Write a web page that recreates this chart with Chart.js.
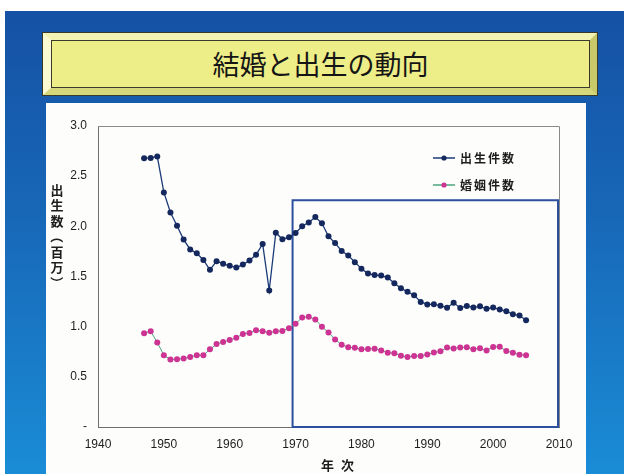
<!DOCTYPE html>
<html>
<head>
<meta charset="utf-8">
<script src="https://cdn.jsdelivr.net/npm/chart.js@4.4.1/dist/chart.umd.min.js"></script>
<style>
  html, body { margin: 0; padding: 0; }
  body {
    width: 624px; height: 474px; position: relative; overflow: hidden;
    background: #fff;
  }
  #slide {
    position: absolute; left: 5px; top: 11px; width: 619px; height: 463px;
    background: linear-gradient(to bottom, #1551a4 0%, #1868b8 45%, #1a8cd6 100%);
  }
  #title {
    position: absolute; left: 43px; top: 33px; width: 537px; height: 46px;
    border-style: solid;
    border-width: 8px 8px 8px 9px;
    border-color: #f3f3b4 #c9c96a #d6d67a #fbfbd2;
    outline: 1px solid #3a3a2a;
    background: #eeee88;
  }
  #title .face {
    position: absolute; left: -1px; top: -1px; right: -1px; bottom: -1px;
    border: 1px solid #3a3a2a;
    text-align: center; line-height: 46px;
    font-family: "Noto Sans CJK JP", sans-serif; font-size: 27px; color: #151515;
  }
  #panel {
    position: absolute; left: 46px; top: 103px; width: 540px; height: 371px;
    background: #fdfefb;
  }
  canvas { display: block; }
</style>
</head>
<body>
<div id="slide"></div>
<div id="title"><div class="face">結婚と出生の動向</div></div>
<div id="panel"><canvas id="chart" width="540" height="371"></canvas></div>
<script>
// 1947-2005, millions
const years = [];
for (let y = 1947; y <= 2005; y++) years.push(y);

const births = [
  2.679, 2.682, 2.697, 2.338, 2.138, 2.005, 1.868, 1.770, 1.731, 1.665,
  1.567, 1.653, 1.626, 1.606, 1.589, 1.619, 1.660, 1.717, 1.824, 1.361,
  1.936, 1.872, 1.890, 1.934, 2.001, 2.039, 2.092, 2.030, 1.901, 1.833,
  1.755, 1.709, 1.643, 1.577, 1.529, 1.515, 1.509, 1.490, 1.432, 1.383,
  1.347, 1.314, 1.247, 1.222, 1.223, 1.209, 1.188, 1.238, 1.187, 1.207,
  1.192, 1.203, 1.178, 1.191, 1.171, 1.154, 1.124, 1.111, 1.063
];
const marriages = [
  0.934, 0.954, 0.843, 0.715, 0.672, 0.676, 0.682, 0.698, 0.715, 0.715,
  0.774, 0.827, 0.848, 0.866, 0.890, 0.928, 0.938, 0.964, 0.955, 0.940,
  0.954, 0.957, 0.985, 1.029, 1.092, 1.100, 1.072, 1.000, 0.942, 0.872,
  0.821, 0.794, 0.789, 0.775, 0.777, 0.781, 0.763, 0.740, 0.736, 0.711,
  0.697, 0.708, 0.708, 0.722, 0.742, 0.754, 0.793, 0.783, 0.792, 0.795,
  0.776, 0.785, 0.762, 0.798, 0.800, 0.757, 0.740, 0.720, 0.714
];
const seriesNames = ['出生件数', '婚姻件数'];
const xTicks = [1940, 1950, 1960, 1970, 1980, 1990, 2000, 2010];
const yTicks = [0, 0.5, 1.0, 1.5, 2.0, 2.5, 3.0];
// highlighted period: x from 1970 to 2010, y up to 2.26
const boxRange = { x0: 1970, x1: 2010, y0: 0, y1: 2.26 };

const JP = '"Noto Sans CJK JP", sans-serif';
const NUM = '"Liberation Sans", Arial, sans-serif';

// plot frame, axis titles and the highlight box
const decor = {
  id: 'decor',
  beforeDatasetsDraw(chart) {
    const { ctx, chartArea: a, scales } = chart;
    ctx.save();
    // grey frame on top/right
    ctx.strokeStyle = '#8a8a8a';
    ctx.lineWidth = 1;
    ctx.beginPath();
    ctx.moveTo(a.left, a.top + 0.5);
    ctx.lineTo(a.right + 0.5, a.top + 0.5);
    ctx.lineTo(a.right + 0.5, a.bottom);
    ctx.stroke();
    // highlight box
    const x0 = scales.x.getPixelForValue(boxRange.x0);
    const x1 = scales.x.getPixelForValue(boxRange.x1);
    const y0 = scales.y.getPixelForValue(boxRange.y0);
    const y1 = scales.y.getPixelForValue(boxRange.y1);
    ctx.strokeStyle = '#2c4f9e';
    ctx.lineWidth = 2;
    ctx.strokeRect(x0 - 3, y1, x1 - x0 + 2, y0 - y1);
    ctx.restore();
  },
  afterDraw(chart) {
    const { ctx, chartArea: a } = chart;
    ctx.save();
    ctx.fillStyle = '#1d1d1d';
    ctx.font = 'bold 13px ' + JP;
    ctx.textAlign = 'center';
    ctx.textBaseline = 'middle';
    // vertical y title, brackets turned sideways
    const yTitle = ['出', '生', '数', '（', '百', '万', '）'];
    yTitle.forEach((c, i) => {
      const y = 87 + i * 15.5;
      if (c === '（' || c === '）') {
        ctx.save();
        ctx.translate(11, y);
        ctx.rotate(Math.PI / 2);
        ctx.fillText(c, 0, 0);
        ctx.restore();
      } else {
        ctx.fillText(c, 11, y);
      }
    });
    // x title
    ctx.textAlign = 'left';
    ctx.fillText('年', 275, 362);
    ctx.fillText('次', 295, 362);

    // legend
    const lx = a.right - 126;
    const rows = [55, 82];
    chart.data.datasets.forEach((ds, i) => {
      const y = rows[i];
      ctx.strokeStyle = ds.borderColor;
      ctx.lineWidth = 1.5;
      ctx.beginPath();
      ctx.moveTo(lx, y);
      ctx.lineTo(lx + 22, y);
      ctx.stroke();
      ctx.fillStyle = ds.pointBackgroundColor;
      ctx.beginPath();
      ctx.arc(lx + 11, y, 2.6, 0, Math.PI * 2);
      ctx.fill();
      ctx.fillStyle = '#1d1d1d';
      ctx.font = 'bold 12px ' + JP;
      ctx.letterSpacing = '2px';
      ctx.textAlign = 'left';
      ctx.fillText(ds.label, lx + 27, y);
      ctx.letterSpacing = '0px';
    });
    ctx.restore();
  }
};

new Chart(document.getElementById('chart'), {
  type: 'line',
  data: {
    datasets: [
      {
        label: seriesNames[0],
        data: years.map((x, i) => ({ x, y: births[i] })),
        borderColor: '#1b3a7a',
        backgroundColor: '#14285e',
        pointBackgroundColor: '#14285e',
        pointBorderWidth: 0,
        pointRadius: 3,
        borderWidth: 1.3,
        tension: 0
      },
      {
        label: seriesNames[1],
        data: years.map((x, i) => ({ x, y: marriages[i] })),
        borderColor: '#4aa37c',
        backgroundColor: '#cc3393',
        pointBackgroundColor: '#cc3393',
        pointBorderWidth: 0,
        pointRadius: 3,
        borderWidth: 1,
        tension: 0
      }
    ]
  },
  options: {
    responsive: false,
    animation: false,
    events: [],
    layout: { padding: { left: 0, top: 23, right: 27, bottom: 0 } },
    plugins: { legend: { display: false }, tooltip: { enabled: false } },
    scales: {
      x: {
        type: 'linear',
        min: xTicks[0], max: xTicks[xTicks.length - 1],
        afterFit(s) { s.height = 47; },
        afterBuildTicks(s) { s.ticks = xTicks.map(v => ({ value: v })); },
        grid: { display: false, drawTicks: false },
        border: { color: '#6e6e6e', width: 1 },
        ticks: { padding: 10, color: '#1d1d1d', font: { family: NUM, size: 12 }, callback: v => String(v) }
      },
      y: {
        min: yTicks[0], max: yTicks[yTicks.length - 1],
        afterFit(s) { s.width = 52; },
        afterBuildTicks(s) { s.ticks = yTicks.map(v => ({ value: v })); },
        grid: { display: false, drawTicks: false },
        border: { color: '#6e6e6e', width: 1 },
        ticks: { padding: 11, color: '#1d1d1d', font: { family: NUM, size: 12 }, callback: v => v === 0 ? '-' : v.toFixed(1) }
      }
    }
  },
  plugins: [decor]
});
</script>
</body>
</html>
